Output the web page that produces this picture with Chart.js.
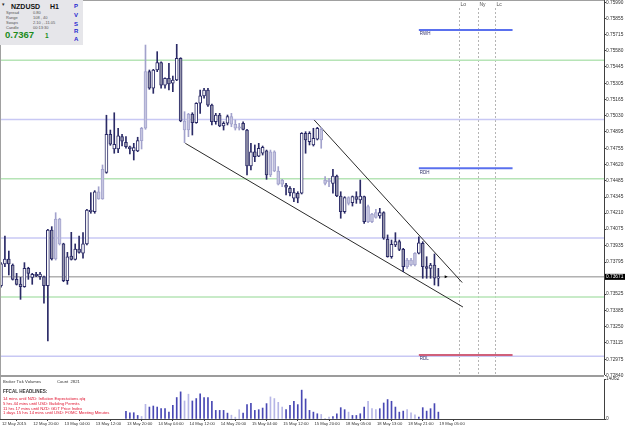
<!DOCTYPE html>
<html>
<head>
<meta charset="utf-8">
<script src="https://cdn.jsdelivr.net/npm/chart.js@4.4.0/dist/chart.umd.min.js"></script>
<style>
  html, body { margin: 0; padding: 0; background: #fff; }
  #wrap { position: relative; width: 625px; height: 429px; overflow: hidden; font-family: "Liberation Sans", Arial, sans-serif; }
  canvas { position: absolute; left: 0; }
  #main { top: 0; }
  #vol { top: 377px; }
  .t { position: absolute; white-space: nowrap; line-height: 1; }
  #info { position: absolute; left: 0; top: 0; width: 83px; height: 45px; background: #e6e6ea; }
  .small { font-size: 4px; color: #555; }
  .red { font-size: 4.2px; color: #e0102c; left: 3px; }
  .pv { font-size: 6px; font-weight: bold; color: #2626d0; left: 74px; }
</style>
</head>
<body>
<div id="wrap">
  <canvas id="main" width="625" height="380"></canvas>
  <canvas id="vol" width="625" height="52"></canvas>

  <div style="position:absolute;left:0;top:0;width:604px;height:1px;background:#a0a0a0"></div>
  <div style="position:absolute;left:0;top:0;width:1px;height:419px;background:#a0a0a0"></div>
  <div style="position:absolute;left:0;top:375px;width:604px;height:2px;background:#9c9c9c"></div>

  <div id="info">
    <div class="t" style="left:2px;top:2px;font-size:5px;color:#222">&#9662;</div>
    <div class="t" style="left:11px;top:2.5px;font-size:7px;font-weight:bold;color:#111">NZDUSD</div>
    <div class="t" style="left:50px;top:2.5px;font-size:7px;font-weight:bold;color:#111">H1</div>
    <div class="t small" style="left:6px;top:11.3px">Spread</div>
    <div class="t small" style="left:33px;top:11.3px">0.80</div>
    <div class="t small" style="left:6px;top:16.3px">Range</div>
    <div class="t small" style="left:33px;top:16.3px">108 , 40</div>
    <div class="t small" style="left:6px;top:21.3px">Swaps</div>
    <div class="t small" style="left:33px;top:21.3px">2.10 , -11.05</div>
    <div class="t small" style="left:6px;top:26.3px">Candle</div>
    <div class="t small" style="left:33px;top:26.3px">00:13:30</div>
    <div class="t" style="left:5px;top:30px;font-size:9.5px;font-weight:bold;color:#1c8c1c">0.7367</div>
    <div class="t" style="left:45px;top:32.5px;font-size:6.5px;font-weight:bold;color:#1c8c1c">1</div>
    <div class="t pv" style="top:3px">P</div>
    <div class="t pv" style="top:12px">V</div>
    <div class="t pv" style="top:20.5px">S</div>
    <div class="t pv" style="top:28px">R</div>
    <div class="t pv" style="top:35.7px">A</div>
  </div>

  <div class="t" style="left:3px;top:380px;font-size:4.2px;color:#333">Broker Tick Volumes</div>
  <div class="t" style="left:57px;top:380px;font-size:4.2px;color:#333">Count&nbsp;&nbsp;2821</div>
  <div class="t" style="left:3px;top:390.4px;font-size:4.6px;font-weight:bold;color:#333">FFCAL HEADLINES:</div>
  <div class="t red" style="top:397.2px">14 mins until NZD: Inflation Expectations q/q</div>
  <div class="t red" style="top:401.9px">5 hrs 44 mins until USD: Building Permits</div>
  <div class="t red" style="top:406.6px">11 hrs 17 mins until NZD: GDT Price Index</div>
  <div class="t red" style="top:411.2px">1 days 15 hrs 14 mins until USD: FOMC Meeting Minutes</div>
</div>

<script>
// NZDUSD H1 candles, bar 0 = 12 May 2015 12:00
const openP = [
  0.73596, 0.73780, 0.73822, 0.73771, 0.73650, 0.73611, 0.73588, 0.73743, 0.73667, 0.73693,
  0.73672, 0.73672, 0.73596, 0.74067, 0.73822, 0.74160, 0.73949, 0.73638, 0.73847, 0.73819,
  0.73906, 0.73870, 0.73949, 0.74236, 0.74221, 0.74390, 0.74329, 0.74554, 0.74875, 0.74751,
  0.74751, 0.74855, 0.74807, 0.74770, 0.74734, 0.74734, 0.74821, 0.74926, 0.75404, 0.75264,
  0.75418, 0.75480, 0.75291, 0.75348, 0.75306, 0.75334, 0.75517, 0.74987, 0.74911, 0.75046,
  0.74973, 0.75137, 0.75200, 0.75249, 0.75122, 0.74981, 0.75038, 0.74945, 0.74968, 0.75024,
  0.74960, 0.74926, 0.74968, 0.74911, 0.74607, 0.74728, 0.74690, 0.74715, 0.74736, 0.74531,
  0.74728, 0.74565, 0.74453, 0.74447, 0.74419, 0.74335, 0.74377, 0.74377, 0.74883, 0.74812,
  0.74785, 0.74833, 0.74917, 0.74489, 0.74475, 0.74461, 0.74523, 0.74354, 0.74221, 0.74340,
  0.74297, 0.74348, 0.74320, 0.74348, 0.74137, 0.74202, 0.74174, 0.74185, 0.74213, 0.73988,
  0.73841, 0.73940, 0.73968, 0.73903, 0.73757, 0.73813, 0.73771, 0.73870, 0.73954, 0.73757,
  0.73743, 0.73771, 0.73659
];
const highP = [
  0.73791, 0.74016, 0.73889, 0.73780, 0.73701, 0.73667, 0.73791, 0.73752, 0.73701, 0.73710,
  0.73710, 0.73678, 0.74072, 0.74095, 0.74213, 0.74166, 0.73955, 0.73878, 0.74047, 0.73949,
  0.74016, 0.74044, 0.74242, 0.74382, 0.74399, 0.74432, 0.74616, 0.75036, 0.74911, 0.75057,
  0.74926, 0.74875, 0.74855, 0.74776, 0.74799, 0.74850, 0.74934, 0.75629, 0.75418, 0.75424,
  0.75573, 0.75488, 0.75353, 0.75475, 0.75367, 0.75635, 0.75522, 0.75066, 0.75052, 0.75057,
  0.75142, 0.75249, 0.75264, 0.75264, 0.75130, 0.75052, 0.75052, 0.74981, 0.75038, 0.75052,
  0.74996, 0.74968, 0.74981, 0.74917, 0.74799, 0.74785, 0.74799, 0.74776, 0.74742, 0.74742,
  0.74736, 0.74602, 0.74495, 0.74461, 0.74433, 0.74419, 0.74390, 0.74889, 0.74897, 0.74897,
  0.74926, 0.74934, 0.74934, 0.74517, 0.74503, 0.74579, 0.74531, 0.74390, 0.74348, 0.74348,
  0.74354, 0.74390, 0.74489, 0.74354, 0.74278, 0.74208, 0.74242, 0.74250, 0.74221, 0.74025,
  0.73982, 0.74044, 0.73982, 0.73912, 0.73828, 0.73828, 0.73875, 0.74010, 0.73968, 0.73841,
  0.73785, 0.73864, 0.73743
];
const lowP = [
  0.73583, 0.73757, 0.73687, 0.73644, 0.73602, 0.73481, 0.73583, 0.73650, 0.73608, 0.73672,
  0.73650, 0.73448, 0.73129, 0.73813, 0.73813, 0.73940, 0.73630, 0.73608, 0.73813, 0.73813,
  0.73870, 0.73828, 0.73940, 0.74208, 0.74208, 0.74326, 0.74326, 0.74546, 0.74782, 0.74715,
  0.74720, 0.74776, 0.74757, 0.74709, 0.74658, 0.74728, 0.74751, 0.74917, 0.75255, 0.75221,
  0.75404, 0.75264, 0.75264, 0.75249, 0.75235, 0.75328, 0.74981, 0.74804, 0.74855, 0.74869,
  0.74968, 0.75052, 0.75180, 0.75110, 0.74954, 0.74960, 0.74939, 0.74911, 0.74954, 0.74939,
  0.74911, 0.74911, 0.74911, 0.74531, 0.74574, 0.74644, 0.74686, 0.74700, 0.74495, 0.74517,
  0.74559, 0.74447, 0.74433, 0.74362, 0.74354, 0.74306, 0.74297, 0.74371, 0.74715, 0.74785,
  0.74776, 0.74827, 0.74757, 0.74447, 0.74433, 0.74377, 0.74348, 0.74166, 0.74208, 0.74278,
  0.74269, 0.74292, 0.74292, 0.74123, 0.74128, 0.74128, 0.74166, 0.74166, 0.73988, 0.73837,
  0.73828, 0.73926, 0.73892, 0.73715, 0.73743, 0.73763, 0.73763, 0.73864, 0.73659, 0.73659,
  0.73659, 0.73602, 0.73594
];
const closeP = [
  0.73780, 0.73822, 0.73780, 0.73650, 0.73608, 0.73588, 0.73743, 0.73701, 0.73693, 0.73681,
  0.73695, 0.73596, 0.74067, 0.73822, 0.74160, 0.73949, 0.73638, 0.73841, 0.73819, 0.73906,
  0.73878, 0.73949, 0.74236, 0.74221, 0.74390, 0.74329, 0.74579, 0.74875, 0.74791, 0.74791,
  0.74863, 0.74818, 0.74770, 0.74751, 0.74762, 0.74821, 0.74926, 0.75404, 0.75264, 0.75418,
  0.75480, 0.75291, 0.75348, 0.75300, 0.75334, 0.75517, 0.74987, 0.74911, 0.75046, 0.74973,
  0.75137, 0.75200, 0.75249, 0.75122, 0.74981, 0.75038, 0.74945, 0.74968, 0.75024, 0.74960,
  0.74926, 0.74939, 0.74917, 0.74607, 0.74728, 0.74686, 0.74757, 0.74765, 0.74531, 0.74728,
  0.74565, 0.74453, 0.74489, 0.74428, 0.74382, 0.74382, 0.74335, 0.74883, 0.74827, 0.74883,
  0.74841, 0.74926, 0.74827, 0.74461, 0.74489, 0.74523, 0.74354, 0.74221, 0.74340, 0.74292,
  0.74348, 0.74326, 0.74354, 0.74137, 0.74264, 0.74137, 0.74213, 0.74213, 0.73997, 0.73841,
  0.73946, 0.73968, 0.73903, 0.73757, 0.73813, 0.73771, 0.73870, 0.73959, 0.73757, 0.73743,
  0.73771, 0.73659, 0.73671
];
// broker tick volumes (bars under the text block are not visible)
const volumes = [
  null, null, null, null, null, null, null, null, null, null,
  null, null, null, null, null, null, null, null, null, null,
  null, null, null, null, null, null, null, null, null, null,
  null, null, 2670, 2210, 2210, 1250, 890, 5160, 4200, 4560,
  4200, 3630, 3630, 2420, 4810, 7550, 9540, 6340, 8720, 6340,
  7190, 8850, 7550, 7550, 6230, 3030, 3030, 3030, 2070, 1350,
  640, 3280, 2070, 5060, 5520, 3030, 3280, 3850, 5410, 7760,
  7190, 5870, 4200, 3280, 4810, 6230, 5060, 10150, 7050, 3030,
  2420, 1850, 1600, 110, 640, 890, 1850, 3990, 3280, 2420,
  1250, 1250, 1850, 4200, 6230, 3630, 3280, 3630, 5630, 6840,
  6230, 4200, 2420, 2780, 3280, 2210, 1500, 640, 3990, 2780,
  3630, 5410, 2420
];
const lightBars = [14, 15, 25, 26, 36, 37, 47, 48, 59, 60, 61, 69, 70, 71, 72, 82, 83, 84, 89, 94, 95, 96, 104, 105, 106];

const tickBars = [0, 8, 16, 24, 32, 40, 48, 56, 64, 72, 80, 88, 96, 104, 112];
const tickLabels = ['12 May 2015', '12 May 20:00', '13 May 04:00', '13 May 12:00', '13 May 20:00',
  '14 May 04:00', '14 May 12:00', '14 May 20:00', '15 May 04:00', '15 May 12:00',
  '15 May 20:00', '18 May 05:00', '18 May 13:00', '18 May 21:00', '19 May 05:00'];
const priceTicks = [0.75990, 0.75855, 0.75715, 0.75580, 0.75445, 0.75305, 0.75165, 0.75030,
  0.74895, 0.74755, 0.74620, 0.74485, 0.74345, 0.74210, 0.74075, 0.73935, 0.73795,
  0.73525, 0.73385, 0.73250, 0.73115, 0.72975, 0.72840];
const volTicks = [0, 14062];

const roundLevels = [0.7550, 0.7500, 0.7450, 0.7400, 0.7350, 0.7300];
const rangeNames = ['RWH', 'RDH', 'RDL'];
const rangeLevels = [0.75756, 0.74588, 0.73011];
const rangeFrom = 107, rangeTo = 131;
const sessionNames = ['Lo', 'Ny', 'Lc'];
const sessionBars = [117.2, 122.2, 126.5];
const lowerTrend = { x: [47.2, 118.3], y: [0.74799, 0.73416] };
const upperTrend = { x: [80.2, 118.1], y: [0.74996, 0.73623] };

const xMin = -0.256, xMax = 154.416;
const yMin = 0.728505, yMax = 0.760093;

const FONT = 'Liberation Sans';
const navy = '#2a2a66', lightEdge = '#a2a2cc';
const last = closeP.length - 1;
const isLight = i => lightBars.includes(i);

const zeroPad = s => { s.paddingTop = 0; s.paddingBottom = 0; s.paddingLeft = 0; s.paddingRight = 0; };

const mt4Overlay = {
  id: 'mt4Overlay',
  beforeDatasetsDraw(chart) {
    const { ctx, chartArea, scales: { x } } = chart;
    ctx.save();
    ctx.strokeStyle = '#b4b4b4';
    ctx.lineWidth = 1;
    ctx.setLineDash([2, 2]);
    ctx.font = '5px ' + FONT;
    ctx.fillStyle = '#505050';
    ctx.textBaseline = 'middle';
    sessionNames.forEach((name, k) => {
      const px = Math.round(x.getPixelForValue(sessionBars[k])) + 0.5;
      ctx.beginPath();
      ctx.moveTo(px, chartArea.top + 8);
      ctx.lineTo(px, chartArea.bottom);
      ctx.stroke();
      ctx.fillText(name, px + 1, 5);
    });
    ctx.restore();
  },
  afterDatasetsDraw(chart) {
    const { ctx, scales: { x, y } } = chart;
    ctx.save();
    ctx.font = '4.5px ' + FONT;
    ctx.fillStyle = '#30306a';
    ctx.textBaseline = 'middle';
    rangeNames.forEach((name, k) => {
      ctx.fillText(name, x.getPixelForValue(rangeFrom) + 1, y.getPixelForValue(rangeLevels[k]) + 4);
    });
    // price arrow
    const ax = x.getPixelForValue(last + 2), ay = y.getPixelForValue(closeP[last]);
    ctx.fillStyle = '#000';
    ctx.beginPath();
    ctx.moveTo(ax - 1.5, ay - 1.5);
    ctx.lineTo(ax + 1.5, ay);
    ctx.lineTo(ax - 1.5, ay + 1.5);
    ctx.closePath();
    ctx.fill();
    ctx.restore();
  },
  afterDraw(chart) {
    const { ctx, chartArea, scales: { y } } = chart;
    const py = y.getPixelForValue(closeP[last]);
    ctx.save();
    ctx.fillStyle = '#000';
    ctx.fillRect(chartArea.right + 1, py - 3, 21, 6);
    ctx.fillStyle = '#fff';
    ctx.font = '4.8px ' + FONT;
    ctx.textBaseline = 'middle';
    ctx.fillText(closeP[last].toFixed(5), chartArea.right + 2, py);
    ctx.restore();
  }
};

const lineSet = (xs, ys, color, width, order) => ({
  type: 'line',
  data: xs.map((v, k) => ({ x: v, y: ys[k] })),
  borderColor: color,
  borderWidth: width,
  pointRadius: 0,
  order: order
});

const mainSets = [
  {
    type: 'bar',
    data: openP.map((_, i) => ({ x: i, y: [lowP[i], highP[i]] })),
    backgroundColor: c => isLight(c.dataIndex) ? lightEdge : navy,
    barThickness: 1,
    grouped: false,
    order: 2
  },
  {
    type: 'bar',
    data: openP.map((_, i) => ({ x: i, y: [openP[i], closeP[i]] })),
    backgroundColor: c => {
      const i = c.dataIndex;
      if (isLight(i)) return '#c6c6e0';
      return closeP[i] >= openP[i] ? '#ffffff' : '#9696ac';
    },
    borderColor: c => isLight(c.dataIndex) ? lightEdge : navy,
    borderWidth: 1,
    borderSkipped: false,
    barThickness: 3,
    grouped: false,
    order: 1
  }
];
roundLevels.forEach((lvl, k) => {
  mainSets.push(lineSet([xMin, xMax], [lvl, lvl], k % 2 === 0 ? '#b6e4b6' : '#c8c8f4', 1.5, 9));
});
mainSets.push(lineSet([xMin, xMax], [closeP[last], closeP[last]], '#8a8a8a', 1, 8));
rangeLevels.forEach((lvl, k) => {
  mainSets.push(lineSet([rangeFrom, rangeTo], [lvl, lvl], k === 2 ? '#d0607a' : '#5a70ee', 2, 7));
});
mainSets.push(lineSet(lowerTrend.x, lowerTrend.y, '#2a2a2a', 1, 3));
mainSets.push(lineSet(upperTrend.x, upperTrend.y, '#2a2a2a', 1, 3));

new Chart(document.getElementById('main').getContext('2d'), {
  type: 'bar',
  data: { datasets: mainSets },
  options: {
    responsive: false,
    animation: false,
    events: [],
    layout: { padding: { top: 0, left: 0, right: 0, bottom: 6 } },
    plugins: { legend: { display: false }, tooltip: { enabled: false } },
    scales: {
      x: {
        type: 'linear', min: xMin, max: xMax, offset: false, display: false
      },
      y: {
        type: 'linear', position: 'right', min: yMin, max: yMax,
        afterBuildTicks: s => { s.ticks = priceTicks.map(v => ({ value: v })); },
        afterFit: s => { s.width = 21; zeroPad(s); },
        ticks: {
          autoSkip: false, padding: 0, color: '#303030',
          font: { size: 4.8, family: FONT },
          callback: v => v.toFixed(5)
        },
        grid: { drawOnChartArea: false, drawTicks: true, tickLength: 2, color: '#404040' },
        border: { display: true, color: '#404040' }
      }
    }
  },
  plugins: [mt4Overlay]
});

new Chart(document.getElementById('vol').getContext('2d'), {
  type: 'bar',
  data: {
    datasets: [{
      data: volumes.map((v, i) => ({ x: i, y: v })),
      backgroundColor: c => isLight(c.dataIndex) ? '#b6b6e6' : '#4848b4',
      barThickness: 1,
      grouped: false
    }]
  },
  options: {
    responsive: false,
    animation: false,
    events: [],
    layout: { padding: { top: 2, left: 0, right: 0, bottom: 0 } },
    plugins: { legend: { display: false }, tooltip: { enabled: false } },
    scales: {
      x: {
        type: 'linear', min: xMin, max: xMax, offset: false,
        afterBuildTicks: s => { s.ticks = tickBars.map(v => ({ value: v })); },
        afterFit: s => { s.height = 10; zeroPad(s); },
        ticks: {
          autoSkip: false, maxRotation: 0, minRotation: 0, align: 'start', labelOffset: 1,
          padding: 0, color: '#303030', font: { size: 4.2, family: FONT },
          callback: (v, k) => tickLabels[k]
        },
        grid: { drawOnChartArea: false, drawTicks: true, tickLength: 2, color: '#404040' },
        border: { display: true, color: '#404040' }
      },
      y: {
        type: 'linear', position: 'right', min: 0, max: volTicks[1],
        afterBuildTicks: s => { s.ticks = volTicks.map(v => ({ value: v })); },
        afterFit: s => { s.width = 21; zeroPad(s); },
        ticks: {
          autoSkip: false, padding: 0, color: '#303030',
          font: { size: 4.8, family: FONT },
          callback: v => String(v)
        },
        grid: { drawOnChartArea: false, drawTicks: true, tickLength: 2, color: '#404040' },
        border: { display: true, color: '#404040' }
      }
    }
  }
});
</script>
</body>
</html>
